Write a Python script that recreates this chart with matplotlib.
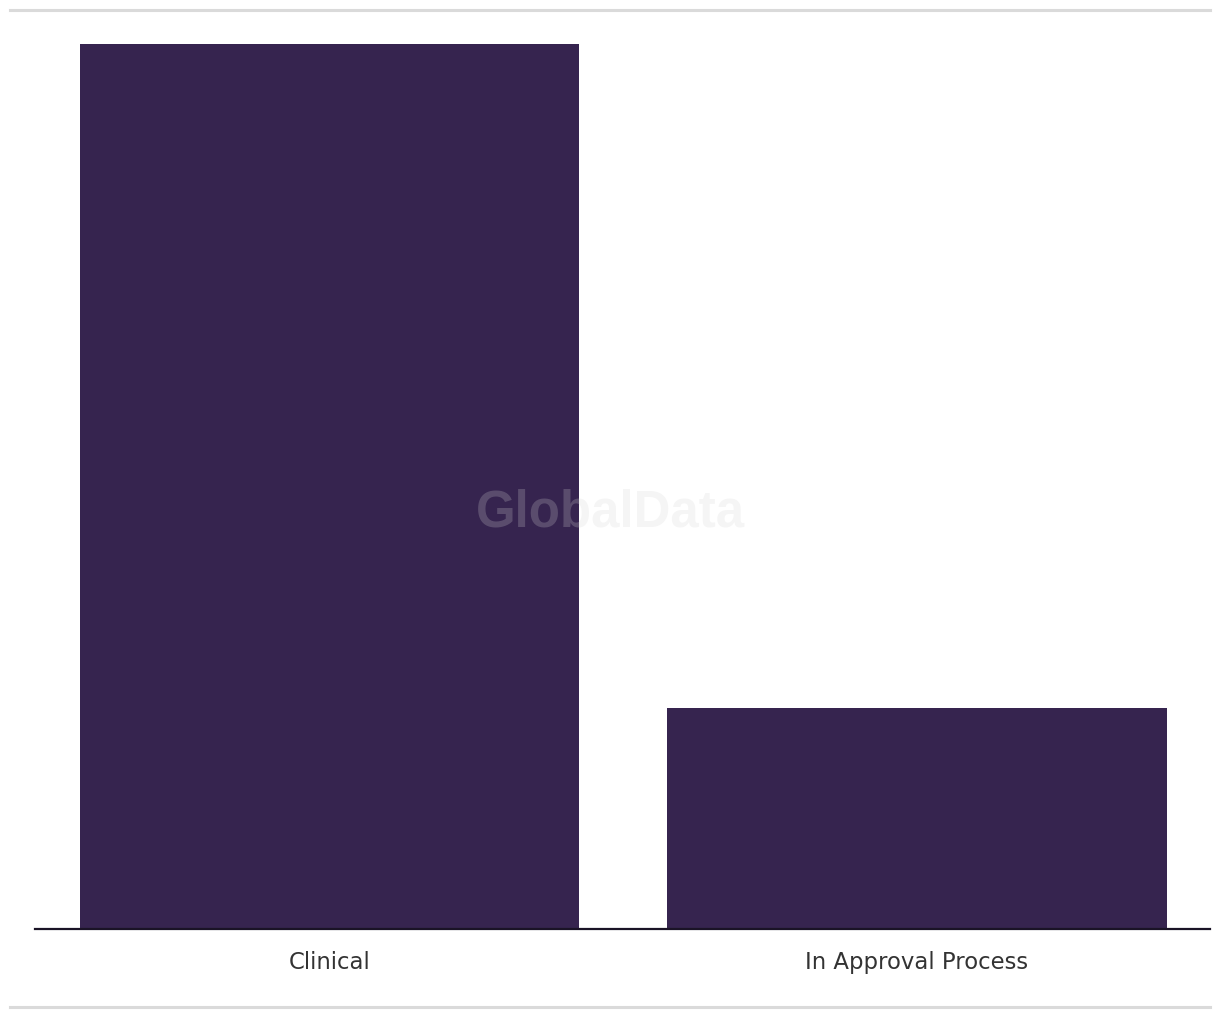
import matplotlib
matplotlib.use("Agg")
import matplotlib.pyplot as plt
from matplotlib.lines import Line2D

categories = ["Clinical", "In Approval Process"]
values = [4, 1]

bar_color = "#36244f"

fig = plt.figure(figsize=(12.2, 10.2), dpi=100)
W, H = 1220, 1020
ax = fig.add_axes([35 / W, (H - 930) / H, (1210 - 35) / W, (930 - 44.5) / H])

x = list(range(len(categories)))
ax.bar(x, values, width=0.85, color=bar_color, zorder=2)
ax.set_xlim(-0.501, 1.499)
ax.set_ylim(0, max(values))
ax.set_xticks(x)
ax.set_xticklabels(categories, fontsize=16.4, color="#333333", family="DejaVu Sans")
ax.tick_params(axis="x", length=0, pad=15)
ax.set_yticks([])
for s in ["top", "right", "left"]:
    ax.spines[s].set_visible(False)
ax.spines["bottom"].set_color("#1a1326")
ax.spines["bottom"].set_linewidth(1.6)
ax.spines["bottom"].set_zorder(3)

# watermark
fig.text(610 / W, 1 - 513 / H, "GlobalData", ha="center", va="center",
         fontsize=36.7, fontweight="bold", family="Liberation Sans",
         color="#d5d5d5", alpha=0.23, zorder=10)

# top and bottom grey rules
for yy in [11, 1008]:
    fig.add_artist(Line2D([10 / W, 1210 / W], [1 - yy / H, 1 - yy / H],
                          transform=fig.transFigure, color="#dadada", linewidth=2.2))

fig.savefig("out.png", dpi=100, facecolor="white")
